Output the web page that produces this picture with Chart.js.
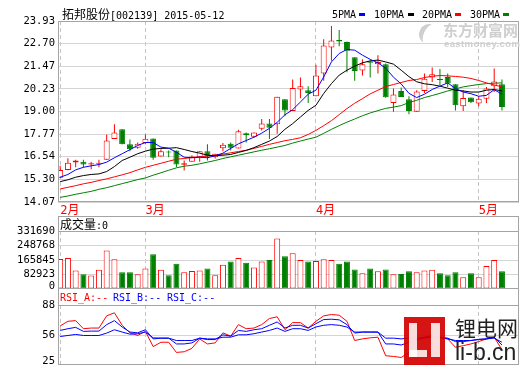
<!DOCTYPE html>
<html><head><meta charset="utf-8">
<script src="https://cdn.jsdelivr.net/npm/chart.js@4.4.1/dist/chart.umd.min.js"></script>
<style>
html,body{margin:0;padding:0;background:#fff;width:520px;height:365px;overflow:hidden;}
body{position:relative;font-family:'DejaVu Sans Mono',monospace;}
canvas{position:absolute;left:0;display:block;}
.t{position:absolute;white-space:nowrap;font-size:10px;line-height:13px;color:#000;}
.cjk{font-family:'Noto Sans CJK SC',sans-serif;font-size:12px;}
.mk{position:absolute;width:6px;height:3px;top:13px;}
</style></head><body>
<canvas id="c1" width="520" height="216" style="top:0"></canvas>
<canvas id="c2" width="520" height="73" style="top:216px"></canvas>
<canvas id="c3" width="520" height="76" style="top:289px"></canvas>

<div class="t" style="left:62px;top:7px"><span class="cjk">拓邦股份</span>[002139] 2015-05-12</div>
<div class="t" style="left:332px;top:8px">5PMA</div><div class="mk" style="left:359px;background:#0000ff"></div>
<div class="t" style="left:374px;top:8px">10PMA</div><div class="mk" style="left:408px;background:#000"></div>
<div class="t" style="left:422px;top:8px">20PMA</div><div class="mk" style="left:455px;background:#ff0000"></div>
<div class="t" style="left:470px;top:8px">30PMA</div><div class="mk" style="left:503px;background:#008000"></div>

<div class="t" style="left:60px;top:217px"><span class="cjk">成交量</span>:0</div>
<div class="t" style="left:60px;top:291px;color:#ff0000">RSI_A:--</div>
<div class="t" style="left:113px;top:291px;color:#0000ff">RSI_B:--</div>
<div class="t" style="left:167px;top:291px;color:#0000ff">RSI_C:--</div>

<div style="position:absolute;left:443px;top:21px;font-family:'Noto Sans CJK SC';font-weight:bold;font-size:15px;line-height:18px;color:#cfcfcf;white-space:nowrap">东方财富网</div>
<div style="position:absolute;left:444px;top:38px;font-family:'Liberation Sans';font-weight:bold;font-size:9.5px;line-height:11px;color:#cfcfcf;white-space:nowrap;letter-spacing:0.4px">eastmoney.com</div>
<div style="position:absolute;left:419px;top:24px;width:14px;height:20px;border-left:5px solid #cfcfcf;border-radius:50%;transform:rotate(25deg)"></div>

<div style="position:absolute;left:404px;top:317px;width:41px;height:48px;background:#d40000;opacity:0.92"></div>
<div style="position:absolute;left:409px;top:323px;width:8px;height:34px;background:#fff;opacity:0.85"></div>
<div style="position:absolute;left:409px;top:350px;width:18px;height:7px;background:#fff;opacity:0.85"></div>
<div style="position:absolute;left:431px;top:323px;width:9px;height:34px;background:#fff;opacity:0.85"></div>
<div style="position:absolute;left:455px;top:314px;font-family:'Noto Sans CJK SC';font-size:21px;line-height:26px;color:#222;white-space:nowrap">锂电网</div>
<div style="position:absolute;left:455px;top:339px;font-family:'Liberation Sans';font-size:23px;line-height:26px;color:#222;white-space:nowrap">li-b.cn</div>

<script>
// ---- data ----
const monthTicks = [0, 11, 33, 54];
const monthLabels = ['2月', '3月', '4月', '5月'];
const priceTicks = [14.07, 15.30, 16.54, 17.77, 19.00, 20.23, 21.47, 22.70, 23.93];
const volumeTicks = [0, 82923, 165845, 248768, 331690];
const rsiTicks = [25, 56, 88];

const opens = [15.39,15.82,16.22,16.26,16.11,16.15,16.37,17.50,18.03,17.21,17.03,17.28,17.53,16.55,16.80,16.88,16.10,16.26,16.51,16.84,16.51,17.00,17.24,16.99,17.82,17.63,18.06,18.34,18.30,19.67,19.03,20.20,20.16,19.83,21.07,22.49,22.89,22.78,21.96,21.23,21.74,21.58,21.58,19.46,20.12,19.67,18.99,20.12,20.85,20.76,20.88,20.49,19.28,19.76,19.43,19.70,20.38,20.49];
const highs = [16.04,16.46,16.37,16.37,16.26,16.37,17.75,18.30,18.03,17.48,17.31,17.75,17.53,16.95,16.88,16.88,16.33,16.62,16.84,17.21,16.70,17.28,17.31,18.01,17.86,17.85,18.59,18.59,19.81,19.67,20.74,20.85,20.38,21.54,22.93,23.66,23.44,22.82,21.96,21.84,21.76,22.07,21.62,20.25,20.31,19.83,20.16,21.07,21.40,21.32,21.07,20.49,20.16,19.76,19.83,20.34,21.34,20.74];
const lows = [15.38,15.80,15.96,15.96,15.86,15.96,16.37,17.50,17.22,16.84,16.97,17.21,16.37,16.55,16.51,15.96,15.78,16.26,16.26,16.33,16.44,16.84,16.88,16.99,17.31,17.57,17.97,17.50,17.79,18.74,19.03,19.72,19.46,19.83,20.67,21.76,22.56,21.14,20.67,20.96,20.85,21.07,19.75,18.99,19.79,18.85,18.99,20.01,20.61,20.43,20.34,19.06,19.03,19.46,19.28,19.46,20.06,19.06];
const closes = [15.82,16.21,16.33,16.11,16.18,16.20,17.42,17.86,17.22,16.95,17.24,17.52,16.48,16.84,16.76,16.11,16.18,16.55,16.84,16.55,16.70,17.19,17.03,17.92,17.71,17.85,18.35,18.12,19.81,19.06,20.28,20.38,20.01,20.96,22.60,22.87,22.82,22.31,21.21,21.58,21.66,21.69,19.78,19.92,19.79,19.03,20.09,20.78,21.03,20.72,20.52,19.34,19.74,19.50,19.70,20.25,20.63,19.24];

const ma5 = [15.42,15.57,15.82,15.96,16.04,16.11,16.24,16.48,16.70,16.92,17.15,17.31,17.31,17.06,17.00,16.78,16.51,16.48,16.51,16.48,16.59,16.73,16.99,17.24,17.42,17.60,17.82,18.08,18.41,18.82,19.10,19.52,19.94,20.16,20.88,21.70,22.16,22.38,22.34,22.07,21.84,21.65,21.36,20.87,20.50,19.99,19.76,19.94,20.20,20.38,20.56,20.25,20.06,19.97,19.83,19.88,20.19,19.94];
const ma10 = [15.18,15.28,15.42,15.51,15.57,15.60,15.73,16.00,16.33,16.51,16.70,16.84,16.95,16.99,17.00,17.03,16.93,16.82,16.73,16.62,16.59,16.62,16.66,16.77,16.88,17.03,17.21,17.39,17.64,18.03,18.34,18.70,19.06,19.34,19.98,20.52,20.98,21.25,21.47,21.65,21.76,21.80,21.70,21.58,21.25,20.90,20.62,20.51,20.46,20.38,20.27,20.16,20.12,20.06,20.06,20.16,20.20,20.12];
const ma20 = [14.78,14.87,14.96,15.06,15.14,15.24,15.33,15.44,15.55,15.67,15.82,15.96,16.07,16.18,16.29,16.40,16.44,16.49,16.53,16.57,16.62,16.68,16.75,16.82,16.89,16.99,17.10,17.21,17.31,17.41,17.48,17.57,17.75,17.97,18.23,18.50,18.83,19.16,19.45,19.70,19.96,20.16,20.36,20.47,20.58,20.69,20.74,20.85,20.92,20.96,20.94,20.91,20.87,20.80,20.69,20.56,20.45,20.34];
const ma30 = [14.32,14.40,14.49,14.57,14.65,14.76,14.85,14.96,15.07,15.18,15.29,15.38,15.53,15.66,15.80,15.93,16.02,16.07,16.15,16.24,16.33,16.44,16.53,16.62,16.71,16.80,16.89,16.97,17.06,17.15,17.28,17.39,17.50,17.60,17.81,18.03,18.23,18.42,18.59,18.77,18.92,19.05,19.17,19.24,19.32,19.49,19.61,19.76,19.87,19.99,20.12,20.23,20.34,20.41,20.47,20.52,20.54,20.56];

const volumes = [171270,176690,106230,84550,77510,110030,220050,169650,95390,95390,84550,117070,198370,110030,79130,144170,95390,102440,106230,117070,79130,138750,156640,176690,149590,122490,156640,165850,288890,187530,203790,165850,156640,160430,169650,165850,144170,156640,111650,89970,117070,100810,111650,84550,86180,100810,95390,106230,110030,89970,79130,95390,66670,89970,66670,131710,165850,100810];

const rsiA = [66.0,70.9,71.6,63.1,63.8,63.8,76.6,79.8,66.7,58.8,56.0,60.3,44.3,48.9,48.9,38.2,38.9,42.5,52.4,47.1,48.2,58.8,55.3,67.4,63.1,63.8,67.4,73.8,75.6,62.0,69.5,69.5,63.8,70.9,76.6,78.0,77.3,70.9,50.7,52.4,53.5,54.2,34.7,34.0,32.9,38.2,50.7,54.2,56.0,54.2,52.4,43.6,45.3,47.1,49.6,52.4,54.2,41.1];
const rsiB = [61.3,63.1,64.5,60.3,60.6,60.6,67.4,71.6,64.9,59.6,58.8,62.0,52.4,53.2,53.2,47.1,47.1,48.2,53.2,51.7,51.7,56.7,55.3,61.3,60.3,62.0,63.1,66.7,70.2,63.8,66.7,66.7,63.8,68.4,72.7,73.1,72.4,67.4,58.5,59.6,59.6,59.6,47.1,47.1,46.0,48.9,51.7,53.2,54.2,54.2,53.2,49.6,49.6,50.7,51.7,52.4,54.2,46.0];
const rsiC = [54.9,56.0,57.1,56.0,56.0,56.0,58.5,62.0,59.6,57.4,57.8,59.6,53.5,53.2,53.2,50.7,50.7,50.7,53.2,52.4,52.4,54.2,54.2,56.7,56.7,57.8,59.6,61.3,63.8,60.3,63.1,63.1,61.3,64.9,66.7,67.4,66.7,64.9,59.6,59.6,59.6,59.6,53.2,53.2,52.4,53.2,53.2,54.2,54.2,53.5,52.4,50.7,50.7,50.7,52.0,52.4,53.2,48.9];

// ---- styling ----
const RED = '#ff0000', GREEN = '#008000', BLUE = '#0000ff';
const FRAME = '#a4a4a4', GRID = '#d4d4d4', DASH = '#c4c4c4';
const MONO = "'DejaVu Sans Mono', monospace";
const MIXED = "'DejaVu Sans Mono', 'Noto Sans CJK SC', sans-serif";
const X_MIN = -0.28, X_MAX = 59.2;

const up = closes.map((c, i) => c >= opens[i]);
const pts = arr => arr.map((v, i) => ({ x: i, y: v }));

const framePlugin = {
  id: 'frame',
  afterDraw(chart, args, opts) {
    const { ctx, chartArea: a } = chart;
    const L = Math.floor(a.left) + 0.5, R = Math.round(a.right) - 0.5;
    const T = Math.floor(a.top) + 0.5, B = Math.round(a.bottom) - 0.5;
    const sideTop = opts.header ? 0 : T;
    ctx.save();
    ctx.strokeStyle = FRAME; ctx.lineWidth = 1;
    ctx.beginPath();
    ctx.moveTo(L, sideTop); ctx.lineTo(L, B + 0.5);
    ctx.moveTo(R, sideTop); ctx.lineTo(R, B + 0.5);
    ctx.moveTo(L, T); ctx.lineTo(R, T);
    ctx.moveTo(L, B); ctx.lineTo(R, B);
    if (opts.headerLine) { ctx.moveTo(L, 0.5); ctx.lineTo(R, 0.5); }
    ctx.stroke();
    ctx.restore();
  }
};

function xScale(showLabels, h) {
  return {
    type: 'linear', min: X_MIN, max: X_MAX, offset: false,
    afterBuildTicks: s => { s.ticks = monthTicks.map(v => ({ value: v })); },
    afterFit: s => { s.height = h; s.paddingLeft = 0; s.paddingRight = 0; },
    grid: { display: true, drawTicks: false, offset: false, color: DASH, lineWidth: 1 },
    border: { display: false, dash: [4, 3] },
    ticks: {
      display: showLabels, autoSkip: false, maxRotation: 0, minRotation: 0,
      align: 'start', padding: 2, color: RED,
      font: { family: MIXED, size: 12 },
      callback: (v, i) => monthLabels[i]
    }
  };
}

function yScale(min, max, tickVals, fmt, shiftBottom) {
  return {
    type: 'linear', min, max, beginAtZero: false,
    afterBuildTicks: s => { s.ticks = tickVals.map(v => ({ value: v })); },
    afterFit: s => { s.width = 58; s.paddingTop = 0; s.paddingBottom = 0; },
    grid: { color: GRID, drawTicks: false, lineWidth: 1 },
    border: { display: false },
    ticks: {
      padding: 3, color: '#000', autoSkip: false,
      font: ctx => ({ family: MONO, size: 10.5, lineHeight: (shiftBottom && ctx.index === 0) ? shiftBottom : 1.2 }),
      callback: (v, i) => (shiftBottom && i === 0) ? [fmt(v), ''] : fmt(v)
    }
  };
}

const common = {
  responsive: false, animation: false, events: [],
  plugins: { legend: { display: false }, tooltip: { enabled: false } }
};

// ---- price panel ----
new Chart(document.getElementById('c1'), {
  type: 'bar',
  data: {
    datasets: [
      { type: 'line', data: pts(ma5), borderColor: BLUE, borderWidth: 1, pointRadius: 0, tension: 0, order: 0 },
      { type: 'line', data: pts(ma10), borderColor: '#000', borderWidth: 1, pointRadius: 0, tension: 0, order: 0 },
      { type: 'line', data: pts(ma20), borderColor: RED, borderWidth: 1, pointRadius: 0, tension: 0, order: 0 },
      { type: 'line', data: pts(ma30), borderColor: GREEN, borderWidth: 1, pointRadius: 0, tension: 0, order: 0 },
      { type: 'bar', data: opens.map((o, i) => ({ x: i, y: [o, closes[i]] })),
        backgroundColor: c => up[c.dataIndex] ? '#ffffff' : GREEN,
        borderColor: c => up[c.dataIndex] ? RED : GREEN,
        borderWidth: 1, borderSkipped: false, barThickness: 6, minBarLength: 1,
        grouped: false, inflateAmount: 0, order: 1 },
      { type: 'bar', data: lows.map((l, i) => ({ x: i, y: [l, highs[i]] })),
        backgroundColor: c => up[c.dataIndex] ? RED : GREEN,
        borderWidth: 0, barThickness: 1, grouped: false, inflateAmount: 0, order: 2 }
    ]
  },
  options: Object.assign({}, common, {
    layout: { padding: { top: 21, right: 1, left: 0, bottom: 0 } },
    scales: {
      x: xScale(true, 14),
      y: yScale(14.07, 23.93, priceTicks, v => v.toFixed(2), 0)
    },
    plugins: Object.assign({}, common.plugins, { frame: {} })
  }),
  plugins: [framePlugin]
});

// ---- volume panel ----
new Chart(document.getElementById('c2'), {
  type: 'bar',
  data: {
    datasets: [
      { data: pts(volumes),
        backgroundColor: c => up[c.dataIndex] ? '#ffffff' : GREEN,
        borderColor: c => up[c.dataIndex] ? RED : GREEN,
        borderWidth: 1, borderSkipped: false, barThickness: 6, grouped: false, inflateAmount: 0 }
    ]
  },
  options: Object.assign({}, common, {
    layout: { padding: { top: 15, right: 1, left: 0, bottom: 0 } },
    scales: {
      x: xScale(false, 0),
      y: yScale(0, 331690, volumeTicks, v => String(v), 0.6)
    },
    plugins: Object.assign({}, common.plugins, { frame: { header: true, headerLine: true } })
  }),
  plugins: [framePlugin]
});

// ---- RSI panel ----
new Chart(document.getElementById('c3'), {
  type: 'line',
  data: {
    datasets: [
      { data: pts(rsiC), borderColor: BLUE, borderWidth: 1, pointRadius: 0, tension: 0 },
      { data: pts(rsiB), borderColor: BLUE, borderWidth: 1, pointRadius: 0, tension: 0 },
      { data: pts(rsiA), borderColor: RED, borderWidth: 1, pointRadius: 0, tension: 0 }
    ]
  },
  options: Object.assign({}, common, {
    layout: { padding: { top: 16, right: 1, left: 0, bottom: 0 } },
    scales: {
      x: xScale(false, 0),
      y: yScale(25, 88, rsiTicks, v => String(v), 0.75)
    },
    plugins: Object.assign({}, common.plugins, { frame: { header: true } })
  }),
  plugins: [framePlugin]
});
</script>
</body></html>
